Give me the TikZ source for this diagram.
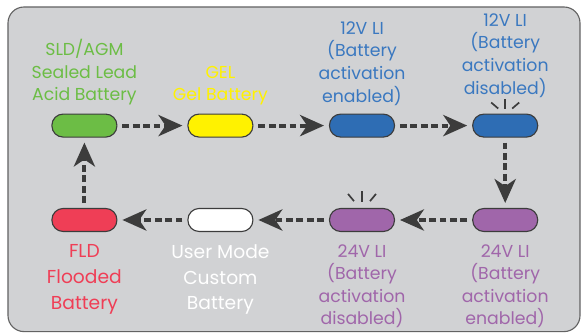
\documentclass[tikz,border=0pt]{standalone}
\usepackage{fontspec}
\setmainfont{Poppins}
\usepackage{tikz}
\usetikzlibrary{arrows.meta,positioning}
\definecolor{panel}{HTML}{D1D2D4}
\definecolor{edge}{HTML}{3C3C3C}
\definecolor{sldgreen}{HTML}{6CBD45}
\definecolor{gelyellow}{HTML}{FFF200}
\definecolor{liblue}{HTML}{2E6DB4}
\definecolor{litext}{HTML}{3A78C0}
\definecolor{lipurple}{HTML}{A066AA}
\definecolor{fldred}{HTML}{EF3E56}

\begin{document}
\begin{tikzpicture}[
    pill/.style={rectangle, rounded corners=0.28cm, draw=edge, line width=0.8pt, minimum width=1.625cm, minimum height=0.575cm},
    toplabel/.style={align=center, anchor=south, inner sep=0pt, font=\fontsize{12.3}{16.1}\selectfont},
    botlabel/.style={align=center, anchor=north, inner sep=0pt, font=\fontsize{12.3}{16.1}\selectfont},
    biglabel/.style={align=center, anchor=north, inner sep=0pt, font=\fontsize{13.3}{18.4}\selectfont},
    flow/.style={draw=edge, line width=2.9pt, dash pattern=on 4.8pt off 2.6pt, -{Stealth[length=17pt, width=15pt, inset=5pt]}, shorten >=3.5pt, shorten <=3.5pt},
    spark/.style={draw=edge, line width=1.2pt}
]
    \useasboundingbox (0,0) rectangle (14.55,8.35);
    % panel
    \draw[fill=panel, draw=edge!80, line width=0.8pt, rounded corners=0.4cm] (0.2,0.06) rectangle (14.5,8.175);

    % top row
    \node[pill, fill=sldgreen] (sld) at (2.11,5.21) {};
    \node[pill, fill=gelyellow] (gel) at (5.51,5.21) {};
    \node[pill, fill=liblue] (li12e) at (9.05,5.21) {};
    \node[pill, fill=liblue] (li12d) at (12.63,5.21) {};

    % bottom row
    \node[pill, fill=fldred] (fld) at (2.11,2.85) {};
    \node[pill, fill=white] (usr) at (5.51,2.85) {};
    \node[pill, fill=lipurple] (li24d) at (9.05,2.85) {};
    \node[pill, fill=lipurple] (li24e) at (12.63,2.85) {};

    % labels
    \node[toplabel, text=sldgreen] (sldl) at ([yshift=0.2cm]sld.north) {SLD/AGM\\Sealed Lead\\Acid Battery};
    \node[toplabel, text=gelyellow] (gell) at ([yshift=0.2cm]gel.north) {GEL\\Gel Battery};
    \node[toplabel, text=litext] (li12el) at ([yshift=0.2cm]li12e.north) {12V LI\\(Battery\\activation\\enabled)};
    \node[toplabel, text=litext] (li12dl) at ([yshift=0.4cm]li12d.north) {12V LI\\(Battery\\activation\\disabled)};
    \node[biglabel, text=fldred] (fldl) at ([yshift=-0.3cm]fld.south) {FLD\\Flooded\\Battery};
    \node[biglabel, text=white] (usrl) at ([yshift=-0.3cm]usr.south) {User Mode\\Custom\\Battery};
    \node[botlabel, text=lipurple] (li24dl) at ([yshift=-0.3cm]li24d.south) {24V LI\\(Battery\\activation\\disabled)};
    \node[botlabel, text=lipurple] (li24el) at ([yshift=-0.3cm]li24e.south) {24V LI\\(Battery\\activation\\enabled)};

    % sparks
    \draw[spark] ([yshift=0.125cm]li12d.north) -- ++(0,0.25);
    \draw[spark] ([xshift=-0.175cm, yshift=0.125cm]li12d.north) -- ++(-0.175,0.15);
    \draw[spark] ([xshift=0.175cm, yshift=0.125cm]li12d.north) -- ++(0.175,0.15);
    \draw[spark] ([yshift=0.15cm]li24d.north) -- ++(0,0.27);
    \draw[spark] ([xshift=-0.2cm, yshift=0.17cm]li24d.north) -- ++(-0.15,0.18);
    \draw[spark] ([xshift=0.2cm, yshift=0.17cm]li24d.north) -- ++(0.15,0.18);

    % flow
    \draw[flow] (sld) -- (gel);
    \draw[flow] (gel) -- (li12e);
    \draw[flow] (li12e) -- (li12d);
    \draw[flow] (li12d) -- (li24e);
    \draw[flow] (li24e) -- (li24d);
    \draw[flow] (li24d) -- (usr);
    \draw[flow] (usr) -- (fld);
    \draw[flow] (fld) -- (sld);
\end{tikzpicture}
\end{document}
